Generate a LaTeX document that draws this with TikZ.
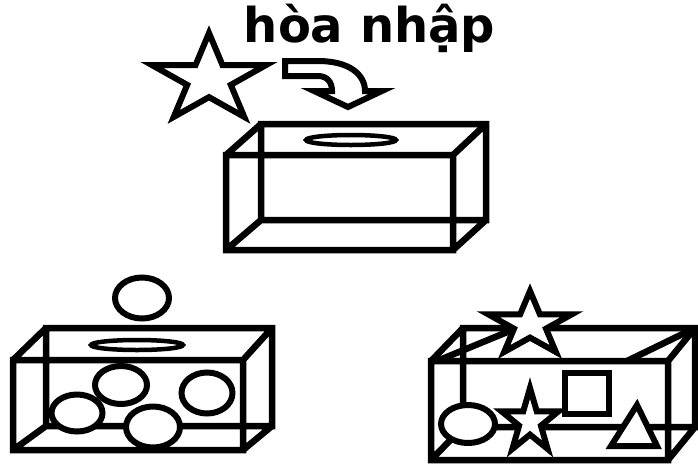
\documentclass[tikz,border=0pt]{standalone}
\usepackage{fontspec}
\setmainfont{DejaVu Sans}
\usetikzlibrary{arrows.meta,positioning}

\begin{document}
\begin{tikzpicture}[x=1pt,y=-1pt,
edge/.style={draw=black,line width=6.5pt,line join=miter},
figure/.style={draw=black,fill=white,line width=6pt,line join=miter},
slot/.style={draw=black,fill=white,line width=4.5pt},
title/.style={font=\fontsize{48}{56}\selectfont\bfseries,anchor=base,inner sep=0pt},
fivestar/.pic={\filldraw[figure] (-90:1)
  \foreach \a/\r in {-54/.382,-18/1,18/.382,54/1,90/.382,126/1,162/.382,198/1,234/.382}{ -- (\a:\r) } -- cycle;}]
\useasboundingbox (0,0) rectangle (698,464);
% the three boxes
\foreach \fl/\fr/\ft/\fb/\bl/\br/\bt/\bb in {226/453/155/250/261/486/124/220,
  13/243/360/450/46/272/328/426, 431/668/361/460/463/695/328/427}
  \draw[edge] (\fl,\ft) rectangle (\fr,\fb) (\bl,\bt) rectangle (\br,\bb)
    (\fl,\ft) -- (\bl,\bt) (\fr,\ft) -- (\br,\bt) (\fr,\fb) -- (\br,\bb) (\fl,\fb) -- (\bl,\bb);
\draw[edge] (437,361) -- (517,328) (627,361) -- (695,328);
% top: star goes in
\node[title] (label) at (369.5,42) {hòa nhập};
\pic[xscale=60,yscale=46.4] (bigstar) at (209,79.4) {fivestar};
\draw[figure] (285,61) -- (318,61) .. controls (350,61) and (365,75) .. (365,91) -- (382,91)
  -- (348,107) -- (314,91) -- (332,91) .. controls (332,82) and (327,76) .. (318,76) -- (285,76) -- cycle;
\draw[slot] (351,140) ellipse [x radius=45,y radius=5];
% left: only ellipses
\draw[figure] (142,298) ellipse [x radius=27,y radius=20.5];
\draw[slot] (137,345) ellipse [x radius=46,y radius=5];
\draw[figure] (121,385) ellipse [x radius=26,y radius=19];
\draw[figure] (77,413) ellipse [x radius=25.5,y radius=18.5];
\draw[figure] (153,427) ellipse [x radius=27,y radius=20.5];
\draw[figure] (207,393) ellipse [x radius=25.5,y radius=20.5];
% right: mixed shapes
\pic[xscale=44,yscale=33.7] (topstar) at (530,324.7) {fivestar};
\draw[figure] (468,424) ellipse [x radius=27,y radius=19];
\pic[xscale=30,yscale=33.7] (lowstar) at (530,421.7) {fivestar};
\draw[figure] (565,373) rectangle (609,414);
\draw[figure] (637,405) -- (657,446) -- (611,446) -- cycle;
\end{tikzpicture}
\end{document}
